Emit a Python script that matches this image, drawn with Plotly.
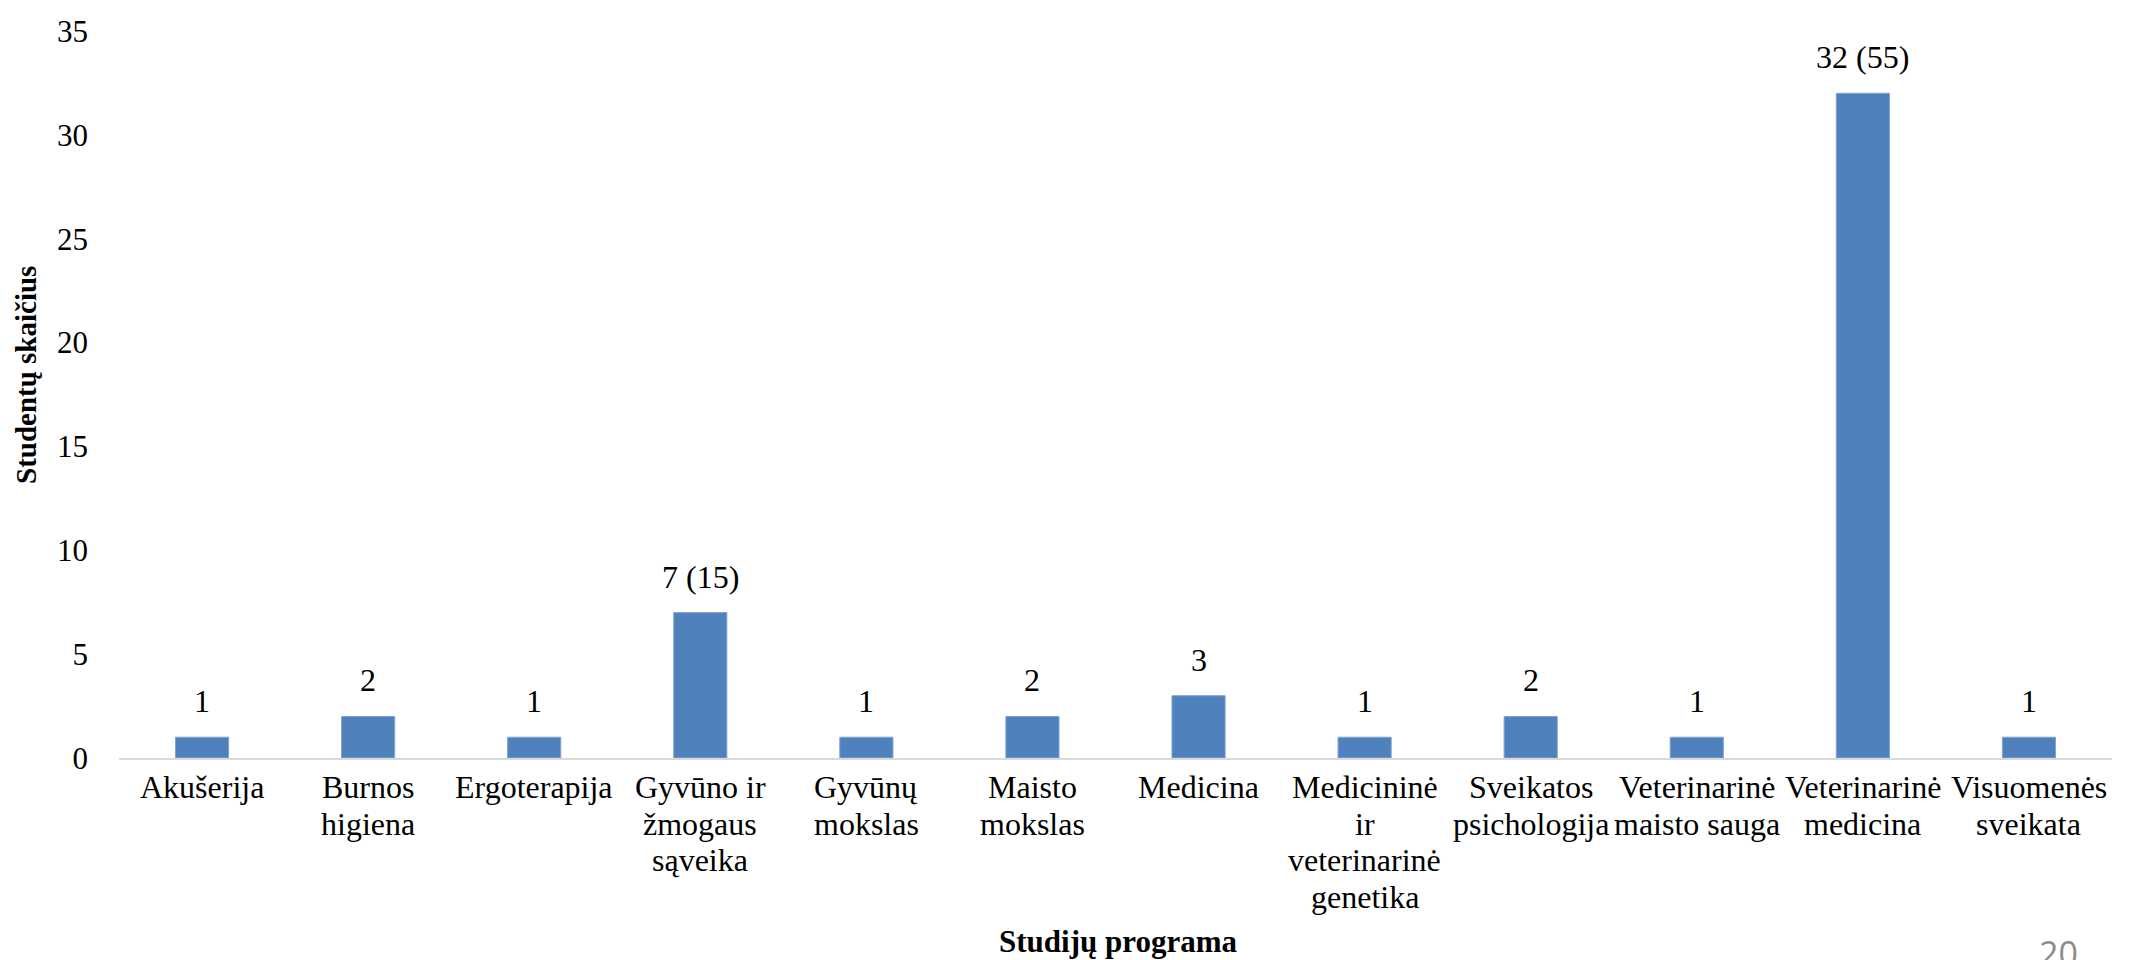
import plotly.graph_objects as go

categories = [
    "Akušerija",
    "Burnos<br>higiena",
    "Ergoterapija",
    "Gyvūno ir<br>žmogaus<br>sąveika",
    "Gyvūnų<br>mokslas",
    "Maisto<br>mokslas",
    "Medicina",
    "Medicininė<br>ir<br>veterinarinė<br>genetika",
    "Sveikatos<br>psichologija",
    "Veterinarinė<br>maisto sauga",
    "Veterinarinė<br>medicina",
    "Visuomenės<br>sveikata",
]
values = [1, 2, 1, 7, 1, 2, 3, 1, 2, 1, 32, 1]
value_labels = ["1", "2", "1", "7 (15)", "1", "2", "3", "1", "2", "1", "32 (55)", "1"]

y_title = "Studentų skaičius"
x_title = "Studijų programa"
page_number = "20"

FONT = "Liberation Serif, Times New Roman, serif"
W, H = 2130, 960
ML, MR, MT, MB = 111, 26, 23, 210
PW = W - ML - MR
PH = H - MT - MB


def px_x(px):
    return (px - ML) / PW


def px_y(py):
    return (H - MB - py) / PH


fig = go.Figure()
fig.add_trace(go.Bar(
    x=list(range(len(categories))),
    y=values,
    marker=dict(color="#4F81BD", line=dict(color="#7FA3D0", width=1)),
    width=0.32,
    hoverinfo="skip",
))

fig.update_layout(
    width=W,
    height=H,
    margin=dict(l=ML, r=MR, t=MT, b=MB),
    paper_bgcolor="white",
    plot_bgcolor="white",
    showlegend=False,
    font=dict(family=FONT, size=31, color="#000000"),
)

fig.update_xaxes(
    range=[-0.5, len(categories) - 0.5],
    showline=True,
    linecolor="#D9D9D9",
    linewidth=2,
    showgrid=False,
    zeroline=False,
    ticks="",
    showticklabels=False,
    automargin=False,
)
fig.update_yaxes(
    range=[0, 35],
    dtick=5,
    showline=False,
    showgrid=False,
    zeroline=False,
    ticks="",
    tickfont=dict(family=FONT, size=31, color="#000000"),
    ticklabelstandoff=30,
    automargin=False,
)

# value labels above bars
for i, (v, lab) in enumerate(zip(values, value_labels)):
    fig.add_annotation(
        x=i, y=v, xref="x", yref="y",
        text=lab, showarrow=False,
        font=dict(family=FONT, size=32, color="#000000"),
        xanchor="center", yanchor="middle", yshift=36,
    )

# category labels, one line each for tighter line spacing
LINE0 = 779
LINE_STEP = 36.7
for i, cat in enumerate(categories):
    for j, line in enumerate(cat.split("<br>")):
        fig.add_annotation(
            x=i, y=px_y(LINE0 + j * LINE_STEP), xref="x", yref="paper",
            text=line, showarrow=False,
            font=dict(family=FONT, size=32, color="#000000"),
            xanchor="center", yanchor="middle",
        )

# axis titles
fig.add_annotation(
    text="<b>" + x_title + "</b>",
    xref="paper", yref="paper",
    x=px_x(1110), y=px_y(933),
    showarrow=False,
    font=dict(family=FONT, size=31, color="#000000"),
    xanchor="center", yanchor="middle",
)
fig.add_annotation(
    text="<b>" + y_title + "</b>",
    xref="paper", yref="paper",
    x=px_x(18), y=px_y(367),
    textangle=-90,
    showarrow=False,
    font=dict(family=FONT, size=29, color="#000000"),
    xanchor="center", yanchor="middle",
)
fig.add_annotation(
    text=page_number,
    xref="paper", yref="paper",
    x=px_x(2050), y=px_y(945),
    showarrow=False,
    font=dict(family="Open Sans, Lato, sans-serif", size=34, color="#8C8C8C"),
    xanchor="center", yanchor="middle",
)

fig.write_html("out.html")
